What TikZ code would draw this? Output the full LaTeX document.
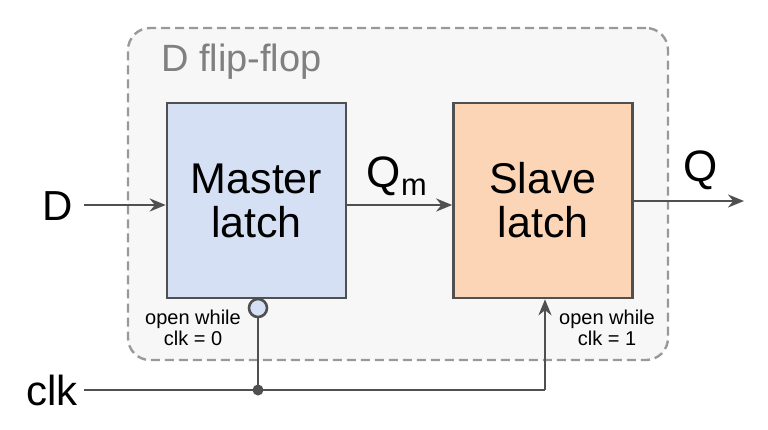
\documentclass[tikz,border=0pt]{standalone}
\usepackage{fontspec}
\setmainfont{Liberation Sans}
\usetikzlibrary{arrows.meta}
\definecolor{ln}{HTML}{505050}
\definecolor{mfill}{HTML}{D6E0F5}
\definecolor{sfill}{HTML}{FBD5B5}
\begin{document}
\begin{tikzpicture}[x=1pt,y=-1pt,
  blk/.style={draw=ln,line width=2.6pt,minimum width=179pt,minimum height=195pt,inner sep=0pt,align=center,font=\fontsize{43}{46}\selectfont},
  wire/.style={draw=ln,line width=2.6pt},
  arr/.style={wire,-{Stealth[length=16pt,width=13pt]}},
  lbl/.style={font=\fontsize{42}{44}\selectfont,inner sep=0pt},
  note/.style={font=\fontsize{20}{21}\selectfont,align=center,inner sep=0pt}]
\useasboundingbox (0,0) rectangle (768,429);
\node[draw=gray!80,dashed,dash pattern=on 9pt off 5pt,line width=2.4pt,rounded corners=22pt,fill=gray!6,minimum width=540pt,minimum height=332pt] (ff) at (398,194) {};
\node[text=gray,font=\fontsize{38}{40}\selectfont,anchor=west,inner sep=0pt] (title) at (161,62) {D flip-flop};
\node[blk,fill=mfill] (m) at (256.5,200.5) {Master\\[-2pt]latch};
\node[blk,fill=sfill] (s) at (543,200.5) {Slave\\[-2pt]latch};
\node[lbl] (d) at (58,206) {D};
\node[lbl] (clk) at (52,390) {clk};
\node[lbl,font=\fontsize{44}{46}\selectfont] (qm) at (397,176) {Q\textsubscript{m}};
\node[lbl,font=\fontsize{44}{46}\selectfont] (q) at (701,170) {Q};
\coordinate (dend) at (84,205);
\coordinate (qend) at (744,201);
\coordinate (cs) at (84,390);
\coordinate (dot) at (258,390);
\coordinate (ce) at (545,390);
\draw[arr] (dend) -- (m.west |- dend);
\draw[arr] (m.east |- 0,205) -- (s.west |- 0,205);
\draw[arr] (s.east |- qend) -- (qend);
\node[circle,draw=ln,line width=2.6pt,fill=mfill,minimum size=18pt,inner sep=0pt] (b) at (258,308) {};
\draw[wire] (cs) -- (ce);
\draw[wire] (dot) -- (b.south);
\draw[arr] (ce) -- (s.south -| ce);
\fill[ln] (dot) circle (5.5pt);
\node[note] (n1) at (193,328) {open while\\clk = 0};
\node[note] (n2) at (607,328) {open while\\clk = 1};
\end{tikzpicture}
\end{document}
